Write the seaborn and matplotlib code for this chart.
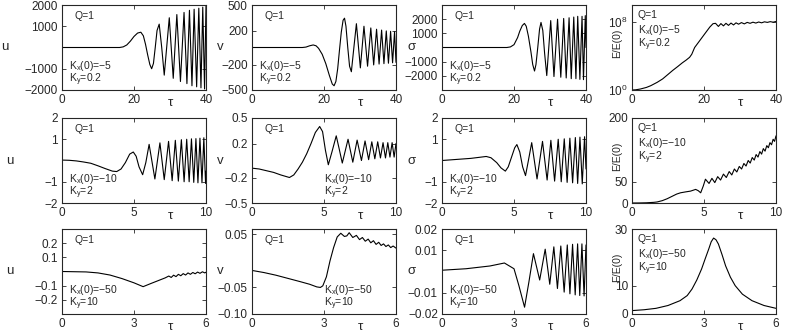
import numpy as np
import pandas as pd
import seaborn as sns
import matplotlib
matplotlib.use("Agg")
import matplotlib.pyplot as plt

# ---- data (tau, value) ----
# row 1: Kx(0)=-5, Ky=0.2, tau 0..40
u1_t = [0, 16, 17, 18, 19, 20, 21, 21.9, 22.6, 23.2, 23.8, 24.4, 24.9, 25.4, 25.9, 26.4, 27.0, 27.7,
        28.4, 29.8, 30.9, 31.9, 32.9, 33.9, 34.7, 35.4, 36.1, 36.7, 37.4, 38.0, 38.6, 39.1, 39.6, 40.0]
u1_v = [0, 0, 30, 120, 300, 520, 680, 720, 550, 150, -350, -800, -1000, -750, 0, 800, 1100, 0,
        -1300, 1400, -1450, 1550, -1600, 1650, -1700, 1750, -1800, 1800, -1850, 1850, -1900, 1900, -1950,
        1950]

v1_t = [0, 14, 15, 16, 17, 17.8, 18.5, 19.5, 20.5, 21.5, 22.3, 22.8, 23.3, 23.8, 24.3, 24.8, 25.3, 25.7,
        26.1, 26.6, 27.1, 27.6, 28.3, 29.0, 30.1, 31.1, 32.1, 33.0, 33.8, 34.6, 35.3, 36.0, 36.65, 37.3,
        37.9, 38.5, 39.05, 39.6, 40.0]
v1_v = [0, 0, 5, 20, 30, 20, -10, -80, -190, -330, -430, -450, -400, -250, -30, 180, 320, 345,
        250, 0, -220, -285, 0, 280, -240, 250, -220, 230, -205, 215, -195, 205, -190, 195,
        -185, 190, -180, 185, -175]

s1_t = [0, 18, 19, 20, 21, 21.6, 22.3, 22.9, 23.4, 24.0, 24.7, 25.2, 25.7, 26.1, 26.6, 27.1, 27.5, 28.0,
        28.5, 29.1, 30.2, 31.1, 32.1, 33.0, 33.8, 34.5, 35.3, 35.9, 36.6, 37.2, 37.7, 38.3, 38.9, 39.3,
        39.8, 40.0]
s1_v = [0, 0, 40, 200, 700, 1150, 1550, 1700, 1500, 800, -300, -1200, -1660, -1200, 0, 1300, 1770, 1200,
        -400, -1980, 1900, -2050, 2000, -2100, 2050, -2150, 2100, -2200, 2150, -2200, 2200, -2250, 2200,
        -2270, 2250, 0]

e1_t = [0, 1, 2.3, 4, 5.2, 7.0, 8.5, 9.9, 11.3, 12.7, 14.0, 15.0, 16.0, 16.6, 17.4, 18.8, 20.2, 21.6,
        22.5, 23.2, 24.0, 24.7, 25.4, 26.1, 26.8, 27.5, 28.2, 28.9, 29.6, 30.4, 31.2, 32.0, 32.8, 33.6,
        34.4, 35.2, 36.0, 36.8, 37.6, 38.4, 39.2, 40.0]
e1_v = [1, 1.05, 1.3, 2, 3.2, 8, 20, 63, 200, 575, 1.6e3, 3.2e3, 7e3, 1.6e4, 1e5, 6.3e5, 4e6, 2.5e7,
        6.3e7, 7e7, 3e7, 6.5e7, 3.5e7, 7e7, 4e7, 7.5e7, 4.5e7, 8e7, 5.5e7, 8.5e7, 6e7, 9e7, 7e7, 9.5e7,
        7.5e7, 1e8, 8e7, 1.05e8, 9e7, 1.1e8, 9.5e7, 1.15e8]

# row 2: Kx(0)=-10, Ky=2, tau 0..10
u2_t = [0, 0.5, 1, 1.5, 2, 2.5, 3, 3.5, 3.8, 4.1, 4.4, 4.7, 4.95, 5.15, 5.35, 5.6, 5.82, 6.05, 6.45,
        6.8, 7.1, 7.4, 7.65, 7.87, 8.08, 8.29, 8.48, 8.66, 8.83, 8.99, 9.15, 9.3, 9.44, 9.58, 9.72,
        9.85, 9.97, 10.0]
u2_v = [0.02, 0.01, -0.02, -0.07, -0.13, -0.25, -0.38, -0.5, -0.52, -0.4, -0.1, 0.3, 0.4, 0.2, -0.3,
        -0.67, -0.1, 0.76, -0.87, 0.83, -0.9, 0.9, -0.95, 0.95, -0.97, 0.98, -1.0, 1.0, -1.0, 1.02,
        -1.03, 1.03, -1.05, 1.05, -1.05, 1.07, -1.07, -0.5]

v2_t = [0, 0.5, 1, 1.5, 2, 2.4, 2.6, 2.9, 3.2, 3.5, 3.8, 4.1, 4.4, 4.7, 4.9, 5.1, 5.3, 5.55, 5.85, 6.05,
        6.27, 6.67, 7.0, 7.3, 7.6, 7.85, 8.1, 8.32, 8.53, 8.73, 8.92, 9.1, 9.27, 9.43, 9.58, 9.73, 9.87,
        10.0]
v2_v = [-0.09, -0.1, -0.12, -0.14, -0.17, -0.19, -0.2, -0.17, -0.1, -0.02, 0.08, 0.2, 0.33, 0.40, 0.34,
        0.12, -0.05, 0.1, 0.29, 0.14, -0.03, 0.25, -0.02, 0.24, 0.0, 0.23, 0.01, 0.22, 0.02, 0.22, 0.03,
        0.21, 0.03, 0.21, 0.04, 0.21, 0.04, 0.2]

s2_t = [0, 1, 2, 2.6, 3.07, 3.4, 3.8, 4.1, 4.4, 4.6, 4.85, 5.05, 5.2, 5.4, 5.6, 5.8, 6.0, 6.23, 6.6,
        6.98, 7.3, 7.56, 7.82, 8.07, 8.28, 8.49, 8.69, 8.88, 9.07, 9.26, 9.42, 9.58, 9.74, 9.9, 10.0]
s2_v = [0.0, 0.05, 0.1, 0.15, 0.19, 0.13, -0.1, -0.35, -0.5, -0.3, 0.2, 0.6, 0.75, 0.4, -0.3, -0.71, 0.0,
        0.84, -0.87, 0.9, -0.92, 0.95, -0.97, 1.0, -1.0, 1.02, -1.03, 1.05, -1.05, 1.08, -1.08, 1.1, -1.1,
        1.12, -0.4]

e2_t = [0, 0.5, 1, 1.5, 1.74, 2.1, 2.44, 2.8, 3.1, 3.37, 3.7, 4.07, 4.42, 4.6, 4.77, 4.95, 5.1, 5.35,
        5.55, 5.75, 5.95, 6.15, 6.35, 6.55, 6.75, 6.93, 7.11, 7.28, 7.45, 7.61, 7.77, 7.92, 8.07, 8.21,
        8.35, 8.49, 8.62, 8.75, 8.88, 9.0, 9.12, 9.24, 9.36, 9.47, 9.58, 9.69, 9.8, 9.9, 10.0]
e2_v = [0, 0.1, 0.5, 1.5, 2.4, 5.5, 10, 16, 21, 24, 26, 28, 32, 29, 24, 40, 56, 46, 58, 48, 62, 54, 68,
        60, 74, 66, 80, 73, 86, 80, 93, 87, 100, 94, 107, 101, 114, 108, 121, 115, 128, 122, 135, 130,
        142, 137, 150, 145, 158]

# row 3: Kx(0)=-50, Ky=10, tau 0..6
u3_t = [0, 1, 1.5, 2, 2.5, 3.0, 3.38, 3.7, 4.0, 4.3, 4.45, 4.55, 4.65, 4.75, 4.85, 4.95, 5.05, 5.15,
        5.25, 5.35, 5.45, 5.55, 5.65, 5.75, 5.85, 5.95, 6.0]
u3_v = [0.0, -0.003, -0.01, -0.025, -0.05, -0.08, -0.107, -0.085, -0.065, -0.045, -0.032, -0.042,
        -0.026, -0.036, -0.02, -0.03, -0.015, -0.025, -0.01, -0.02, -0.007, -0.016, -0.004, -0.013,
        -0.002, -0.01, -0.005]

v3_t = [0, 0.5, 1, 1.5, 2, 2.4, 2.7, 2.85, 2.95, 3.1, 3.25, 3.4, 3.55, 3.7, 3.85, 3.95, 4.05, 4.2,
        4.35, 4.48, 4.6, 4.72, 4.84, 4.95, 5.06, 5.17, 5.28, 5.38, 5.48, 5.58, 5.68, 5.78, 5.88, 6.0]
v3_v = [-0.018, -0.022, -0.027, -0.033, -0.039, -0.044, -0.049, -0.05, -0.047, -0.03, 0.0, 0.025, 0.045,
        0.052, 0.046, 0.047, 0.053, 0.044, 0.048, 0.04, 0.044, 0.037, 0.041, 0.034, 0.038, 0.031, 0.035,
        0.029, 0.032, 0.027, 0.03, 0.025, 0.028, 0.024]

s3_t = [0, 1, 2, 2.6, 3.0, 3.2, 3.44, 3.62, 3.81, 4.07, 4.3, 4.49, 4.66, 4.81, 4.95, 5.09, 5.22, 5.33,
        5.44, 5.55, 5.65, 5.74, 5.83, 5.92, 6.0]
s3_v = [0.0006, 0.0013, 0.0026, 0.004, 0.0013, -0.0065, -0.0168, -0.005, 0.0084, -0.004, 0.0105, -0.006,
        0.0116, -0.008, 0.012, -0.0097, 0.0125, -0.0105, 0.0128, -0.011, 0.013, -0.0113, 0.013, -0.0115,
        0.0125]

e3_t = [0, 0.5, 1, 1.5, 2, 2.3, 2.5, 2.7, 2.9, 3.05, 3.2, 3.3, 3.4, 3.5, 3.6, 3.75, 3.9, 4.1, 4.3, 4.6,
        5.0, 5.5, 6.0]
e3_v = [1.2, 1.5, 2, 3, 4.7, 6.5, 8.8, 12, 15.9, 19.5, 23, 25.5, 26.8, 26.2, 24.7, 21, 17, 13, 10, 7,
        4.7, 3, 2]

series = [[(u1_t, u1_v), (v1_t, v1_v), (s1_t, s1_v), (e1_t, e1_v)],
          [(u2_t, u2_v), (v2_t, v2_v), (s2_t, s2_v), (e2_t, e2_v)],
          [(u3_t, u3_v), (v3_t, v3_v), (s3_t, s3_v), (e3_t, e3_v)]]

ylabels = ["u", "v", "σ", "E/E(0)"]
kx0 = ["−5", "−10", "−50"]
ky = ["0.2", "2", "10"]
tmax = [40, 10, 6]
xticks = [[0, 20, 40], [0, 5, 10], [0, 3, 6]]
ylims = [[(-2000, 2000), (-500, 500), (-3000, 3000), (1, 1e10)],
         [(-2, 2), (-0.5, 0.5), (-2, 2), (0, 200)],
         [(-0.3, 0.3), (-0.1, 0.06), (-0.02, 0.02), (0, 30)]]
yticks = [[[-2000, -1000, 1000, 2000], [-500, -200, 200, 500], [-2000, -1000, 1000, 2000], [1, 1e8]],
          [[-2, -1, 1, 2], [-0.5, -0.2, 0.2, 0.5], [-2, -1, 1, 2], [0, 50, 200]],
          [[-0.2, -0.1, 0.1, 0.2], [-0.1, -0.05, 0.05], [-0.02, -0.01, 0.01, 0.02], [0, 10, 30]]]

sns.set_style("ticks")
plt.rcParams["font.family"] = ["Liberation Sans", "DejaVu Sans"]
plt.rcParams["mathtext.fontset"] = "custom"
plt.rcParams["mathtext.rm"] = "Liberation Sans"
plt.rcParams["mathtext.it"] = "Liberation Sans:italic"
plt.rcParams["axes.unicode_minus"] = True

fig = plt.figure(figsize=(7.89, 3.32), dpi=100)
W, H = 789, 332
lefts = [62, 252, 442, 632]
tops = [5, 118, 229]
aw, ah = 144, 85
fs = 8.5
afs = 7.5

for r in range(3):
    for c in range(4):
        ax = fig.add_axes([lefts[c] / W, (H - tops[r] - ah) / H, aw / W, ah / H])
        t, y = series[r][c]
        df = pd.DataFrame({"tau": t, "val": y})
        sns.lineplot(data=df, x="tau", y="val", ax=ax, color="k", lw=0.8, estimator=None)
        if r == 0 and c == 3:
            ax.set_yscale("log")
            ax.minorticks_off()
        ax.set_xlim(0, tmax[r])
        ax.set_ylim(*ylims[r][c])
        ax.set_xticks(xticks[r])
        ax.set_yticks(yticks[r][c])
        if r == 0 and c == 3:
            ax.set_yticklabels(["$10^0$", "$10^8$"])
        for s in ax.spines.values():
            s.set_linewidth(0.8)
        ax.tick_params(direction="in", length=3, width=0.6, top=True, right=True,
                       labelsize=fs, pad=3)
        ax.set_xlabel("τ", fontsize=fs + 1, va="center")
        ax.xaxis.set_label_coords(0.75, -0.15)
        if c == 3:
            ax.set_ylabel(ylabels[c], fontsize=afs, rotation=90, va="center")
            ax.yaxis.set_label_coords(-0.1, 0.55)
            txt = ["Q=1", "K$_\\mathrm{x}$(0)=" + kx0[r], "K$_\\mathrm{y}$=" + ky[r]]
            for k, s in enumerate(txt):
                ax.text(0.04, 0.88 - 0.175 * k, s, transform=ax.transAxes, fontsize=afs, va="center")
        else:
            ax.set_ylabel(ylabels[c], fontsize=fs + 1, rotation=0, va="center", ha="center")
            xl = [-0.395 if r == 0 else -0.36, -0.22, -0.21][c]
            ax.yaxis.set_label_coords(xl, 0.5)
            ax.text(0.09, 0.87, "Q=1", transform=ax.transAxes, fontsize=afs, va="center")
            xk = 0.5 if (c == 1 and r > 0) else 0.05
            ax.text(xk, 0.285, "K$_\\mathrm{x}$(0)=" + kx0[r], transform=ax.transAxes, fontsize=afs,
                    va="center")
            ax.text(xk, 0.12, "K$_\\mathrm{y}$=" + ky[r], transform=ax.transAxes, fontsize=afs,
                    va="center")

fig.savefig("out.png", dpi=100)
